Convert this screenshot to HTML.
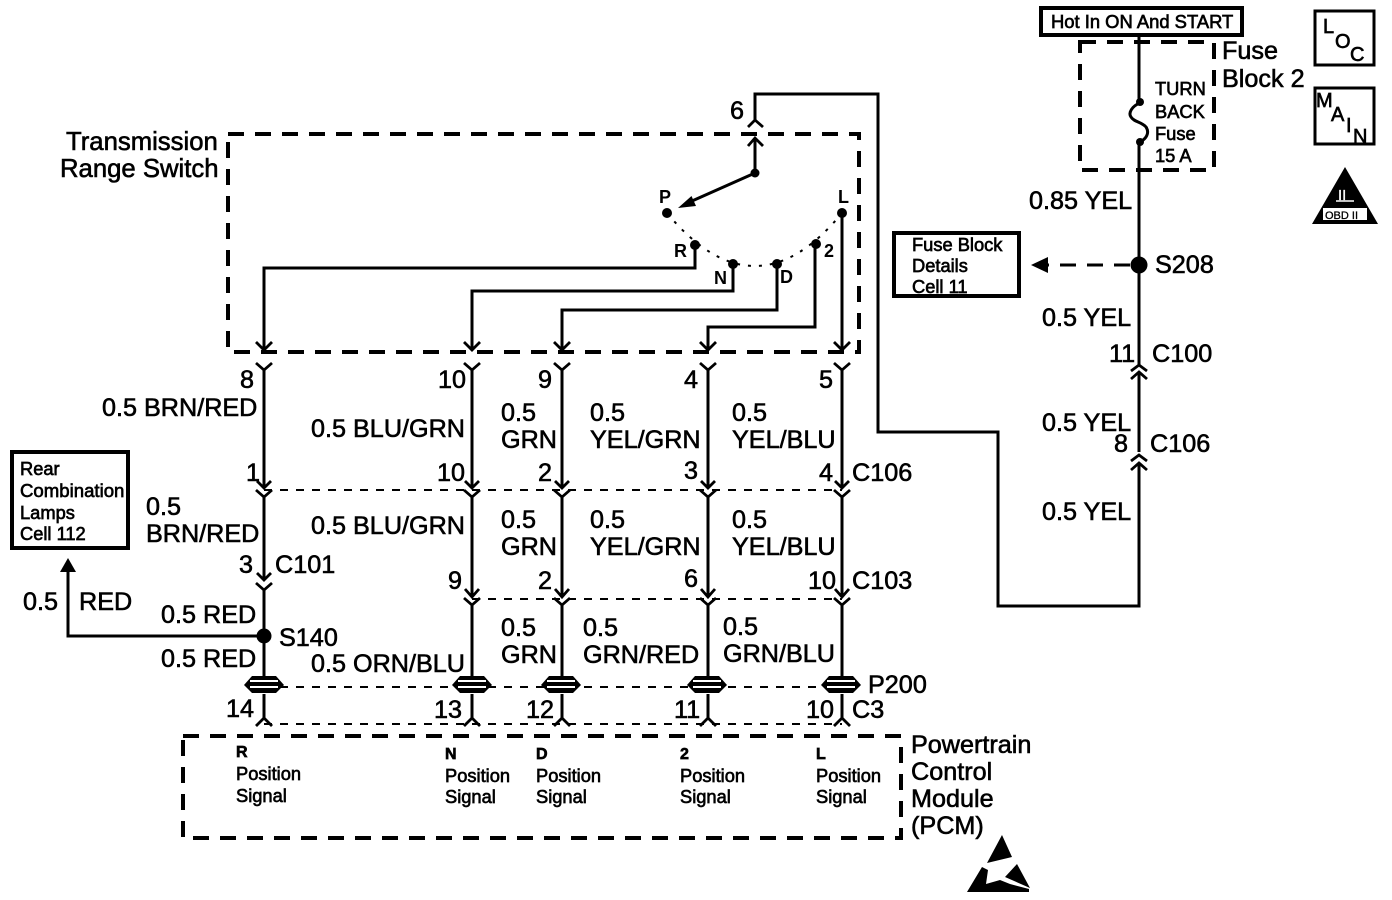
<!DOCTYPE html>
<html><head><meta charset="utf-8"><style>
html,body{margin:0;padding:0;background:#fff}
svg{display:block}
text{font-family:"Liberation Sans",sans-serif;fill:#000;stroke:#000;stroke-width:.6}
.l{font-size:25.2px}.s{font-size:18.3px;stroke-width:.65}.m{font-size:18px;font-weight:bold;stroke-width:0}
.w{fill:none;stroke:#000;stroke-width:3}
.t{fill:none;stroke:#000;stroke-width:2.8}
.d{fill:none;stroke:#000;stroke-width:4;stroke-dasharray:16 11}
.e{fill:none;stroke:#000;stroke-width:2;stroke-dasharray:8 8}
</style></head><body>
<svg width="1392" height="900" viewBox="0 0 1392 900" xmlns="http://www.w3.org/2000/svg">
<rect width="1392" height="900" fill="#fff"/>
<!-- dashed boxes -->
<rect class="d" x="228" y="134" width="631" height="218"/>
<rect class="d" x="183" y="736" width="718" height="102"/>
<rect class="d" x="1080" y="42" width="134" height="128"/>
<!-- thin dashed connector lines -->
<path class="e" d="M264 490H842M472 599H842M264 687H842M264 724H842"/>
<!-- switch -->
<path d="M667 213Q755 319 842 213" fill="none" stroke="#000" stroke-width="2" stroke-dasharray="3 8"/>
<path class="w" d="M755 173L692 201M755 173V140"/>
<path d="M678 208L691.500 196L696 206Z"/>
<path class="t" d="M748 146L755 138L763 146M748 127L755 120L763 127"/>
<path class="w" d="M755 120V94H878V432H998V606H1139V372M1139 365V35"/>
<g fill="#000">
<circle cx="755" cy="173" r="4.5"/><circle cx="667" cy="213" r="5"/><circle cx="842" cy="213" r="5"/>
<circle cx="695" cy="245" r="5"/><circle cx="733" cy="264" r="5"/><circle cx="777" cy="264" r="5"/><circle cx="816" cy="244" r="5"/>
</g>
<path class="w" d="M695 245V268H264V350M733 264V291H472V350M777 264V310H562V350M815 244V327H708V350M842 213V350"/>
<!-- arrowheads at switch box bottom -->
<path class="t" d="M256 342L264 350L272 342M464 342L472 350L480 342M554 342L562 350L570 342M700 342L708 350L716 342M834 342L842 350L850 342"/>
<!-- wires -->
<path class="w" d="M264 370V488M264 497V580M264 590V678M264 694V718M472 370V488M472 497V597M472 605V678M472 694V718M562 370V488M562 497V597M562 605V678M562 694V718M708 370V488M708 497V597M708 605V678M708 694V718M842 370V488M842 497V597M842 605V678M842 694V718"/>
<!-- Y connectors row 1 -->
<path class="t" d="M256 363L264 370L272 363M464 363L472 370L480 363M554 363L562 370L570 363M700 363L708 370L716 363M834 363L842 370L850 363"/>
<!-- row 2 -->
<path class="t" d="M257 481L264 488L271 481M465 481L472 488L479 481M555 481L562 488L569 481M701 481L708 488L715 481M835 481L842 488L849 481"/>
<path class="t" d="M256 490L264 497L272 490M464 490L472 497L480 490M554 490L562 497L570 490M700 490L708 497L716 490M834 490L842 497L850 490"/>
<!-- row 3 -->
<path class="t" d="M257 573L264 580L271 573M465 589L472 597L479 589M555 589L562 597L569 589M701 589L708 597L715 589M835 589L842 597L849 589"/>
<path class="t" d="M256 583L264 590L272 583M464 598L472 605L480 598M554 598L562 605L570 598M700 598L708 605L716 598M834 598L842 605L850 598"/>
<!-- bottom inverted Y -->
<path class="t" d="M256 726L264 718L272 726M464 726L472 718L480 726M554 726L562 718L570 726M700 726L708 718L716 726M834 726L842 718L850 726"/>
<!-- P200 connectors -->
<g>
<path d="M244 685L252 676H276L284 685L276 693H252Z" fill="#000"/><path d="M250 681H278M250 687H278" stroke="#fff" stroke-width="2"/>
<path d="M452 685L460 676H484L492 685L484 693H460Z" fill="#000"/><path d="M458 681H486M458 687H486" stroke="#fff" stroke-width="2"/>
<path d="M541 685L549 676H573L581 685L573 693H549Z" fill="#000"/><path d="M547 681H575M547 687H575" stroke="#fff" stroke-width="2"/>
<path d="M687 685L695 676H719L727 685L719 693H695Z" fill="#000"/><path d="M693 681H721M693 687H721" stroke="#fff" stroke-width="2"/>
<path d="M821 685L829 676H853L861 685L853 693H829Z" fill="#000"/><path d="M827 681H855M827 687H855" stroke="#fff" stroke-width="2"/>
</g>
<circle cx="264" cy="636" r="7.500" fill="#000"/>
<!-- RED branch -->
<path class="w" d="M264 636H68V572"/>
<path d="M68 558L60 572H76Z"/>
<rect x="12" y="452" width="116" height="96" fill="none" stroke="#000" stroke-width="4"/>
<!-- right side -->
<rect x="1041" y="8" width="201" height="27" fill="#fff" stroke="#000" stroke-width="4"/>
<rect x="1134" y="104" width="10" height="36" fill="#fff"/>
<path fill="none" stroke="#000" stroke-width="3" d="M1140 103C1132 106 1128 113 1131 117C1134 122 1142 122 1146 127C1150 133 1146 139 1140 142"/>
<circle cx="1140" cy="102" r="4" fill="#000"/><circle cx="1140" cy="142" r="4" fill="#000"/>
<rect x="1134" y="452" width="10" height="11" fill="#fff"/>
<path class="t" d="M1131 371L1139 365L1147 371M1131 379L1139 372L1147 379M1131 461L1139 455L1147 461M1131 470L1139 463L1147 470"/>
<circle cx="1139" cy="265" r="8.500" fill="#000"/>
<path class="w" d="M1130 265H1048" stroke-dasharray="16 11"/>
<path d="M1031 265L1048 257V273Z"/>
<rect x="894" y="233" width="125" height="63" fill="none" stroke="#000" stroke-width="4"/>
<!-- LOC / MAIN -->
<rect x="1315" y="11" width="59" height="54" fill="none" stroke="#000" stroke-width="3"/>
<rect x="1315" y="88" width="59" height="56" fill="none" stroke="#000" stroke-width="3"/>
<text class="s" x="1323" y="33" style="font-size:20px">L</text><text class="s" x="1335" y="48" style="font-size:20px">O</text><text class="s" x="1350" y="61" style="font-size:20px">C</text>
<text class="s" x="1316" y="107" style="font-size:20px">M</text><text class="s" x="1331" y="121" style="font-size:20px">A</text><text class="s" x="1346" y="132" style="font-size:20px">I</text><text class="s" x="1353" y="143" style="font-size:20px">N</text>
<!-- OBD triangle -->
<path d="M1345 167L1378 224H1312Z"/>
<text x="1338" y="200" style="font-size:15px;fill:#fff;stroke:#fff;stroke-width:.3">II</text>
<path d="M1336 201H1354" stroke="#fff" stroke-width="1.5"/>
<rect x="1323" y="208" width="44" height="12" fill="#fff"/>
<text x="1325" y="219" style="font-size:11px;stroke-width:.3">OBD II</text>
<!-- ESD -->
<path d="M1002 835L1012 857L987 863Z"/>
<path d="M967 892L982 867L988 870L986 884L1000 880L1010 884L1029 889V892Z"/>
<path d="M1017 864L1030 888L1005 877Z"/>
<!-- large labels -->
<text class="l" x="66" y="150" style="font-size:25.7px">Transmission</text>
<text class="l" x="60" y="177" style="font-size:25.7px">Range Switch</text>
<text class="l" x="1222" y="59">Fuse</text>
<text class="l" x="1222" y="87">Block 2</text>
<text class="l" x="1029" y="209">0.85 YEL</text>
<text class="l" x="1155" y="273">S208</text>
<text class="l" x="1042" y="326">0.5 YEL</text>
<text class="l" x="1109" y="362">11</text>
<text class="l" x="1152" y="362">C100</text>
<text class="l" x="1042" y="431">0.5 YEL</text>
<text class="l" x="1114" y="452">8</text>
<text class="l" x="1150" y="452">C106</text>
<text class="l" x="1042" y="520">0.5 YEL</text>
<text class="l" x="730" y="119">6</text>
<text class="l" x="240" y="388">8</text>
<text class="l" x="438" y="388">10</text>
<text class="l" x="538" y="388">9</text>
<text class="l" x="684" y="388">4</text>
<text class="l" x="819" y="388">5</text>
<text class="l" x="102" y="416">0.5 BRN/RED</text>
<text class="l" x="311" y="437">0.5 BLU/GRN</text>
<text class="l" x="501" y="421">0.5</text><text class="l" x="501" y="448">GRN</text>
<text class="l" x="590" y="421">0.5</text><text class="l" x="590" y="448">YEL/GRN</text>
<text class="l" x="732" y="421">0.5</text><text class="l" x="732" y="448">YEL/BLU</text>
<text class="l" x="246" y="481">1</text>
<text class="l" x="437" y="481">10</text>
<text class="l" x="538" y="481">2</text>
<text class="l" x="684" y="479">3</text>
<text class="l" x="819" y="481">4</text>
<text class="l" x="852" y="481">C106</text>
<text class="l" x="146" y="515">0.5</text><text class="l" x="146" y="542">BRN/RED</text>
<text class="l" x="311" y="534">0.5 BLU/GRN</text>
<text class="l" x="501" y="528">0.5</text><text class="l" x="501" y="555">GRN</text>
<text class="l" x="590" y="528">0.5</text><text class="l" x="590" y="555">YEL/GRN</text>
<text class="l" x="732" y="528">0.5</text><text class="l" x="732" y="555">YEL/BLU</text>
<text class="l" x="239" y="573">3</text>
<text class="l" x="275" y="573">C101</text>
<text class="l" x="448" y="589">9</text>
<text class="l" x="538" y="589">2</text>
<text class="l" x="684" y="587">6</text>
<text class="l" x="808" y="589">10</text>
<text class="l" x="852" y="589">C103</text>
<text class="l" x="23" y="610">0.5</text>
<text class="l" x="79" y="610">RED</text>
<text class="l" x="161" y="623">0.5 RED</text>
<text class="l" x="279" y="646">S140</text>
<text class="l" x="161" y="667">0.5 RED</text>
<text class="l" x="311" y="672">0.5 ORN/BLU</text>
<text class="l" x="501" y="636">0.5</text><text class="l" x="501" y="663">GRN</text>
<text class="l" x="583" y="636">0.5</text><text class="l" x="583" y="663">GRN/RED</text>
<text class="l" x="723" y="635">0.5</text><text class="l" x="723" y="662">GRN/BLU</text>
<text class="l" x="868" y="693">P200</text>
<text class="l" x="226" y="717">14</text>
<text class="l" x="434" y="718">13</text>
<text class="l" x="526" y="718">12</text>
<text class="l" x="674" y="718">11</text>
<text class="l" x="806" y="718">10</text>
<text class="l" x="852" y="718">C3</text>
<text class="l" x="911" y="753">Powertrain</text>
<text class="l" x="911" y="780">Control</text>
<text class="l" x="911" y="807">Module</text>
<text class="l" x="911" y="834">(PCM)</text>
<!-- small labels -->
<text class="m" x="659" y="203">P</text><text class="m" x="838" y="203">L</text>
<text class="m" x="674" y="257">R</text><text class="m" x="714" y="284">N</text><text class="m" x="780" y="283">D</text><text class="m" x="824" y="257">2</text>
<text class="s" x="1051" y="28" style="font-size:18.4px">Hot In ON And START</text>
<text class="s" x="1155" y="95">TURN</text>
<text class="s" x="1155" y="118">BACK</text>
<text class="s" x="1155" y="140">Fuse</text>
<text class="s" x="1155" y="162">15 A</text>
<text class="s" x="912" y="251">Fuse Block</text>
<text class="s" x="912" y="272">Details</text>
<text class="s" x="912" y="293">Cell 11</text>
<text class="s" x="20" y="475">Rear</text>
<text class="s" x="20" y="497" style="font-size:18.6px">Combination</text>
<text class="s" x="20" y="519">Lamps</text>
<text class="s" x="20" y="540">Cell 112</text>
<text class="s" x="236" y="757" style="font-weight:bold;font-size:16px">R</text>
<text class="s" x="236" y="780">Position</text><text class="s" x="236" y="802">Signal</text>
<text class="s" x="445" y="759" style="font-weight:bold;font-size:16px">N</text>
<text class="s" x="445" y="782">Position</text><text class="s" x="445" y="803">Signal</text>
<text class="s" x="536" y="759" style="font-weight:bold;font-size:16px">D</text>
<text class="s" x="536" y="782">Position</text><text class="s" x="536" y="803">Signal</text>
<text class="s" x="680" y="759" style="font-weight:bold;font-size:16px">2</text>
<text class="s" x="680" y="782">Position</text><text class="s" x="680" y="803">Signal</text>
<text class="s" x="816" y="759" style="font-weight:bold;font-size:16px">L</text>
<text class="s" x="816" y="782">Position</text><text class="s" x="816" y="803">Signal</text>
</svg>
</body></html>
